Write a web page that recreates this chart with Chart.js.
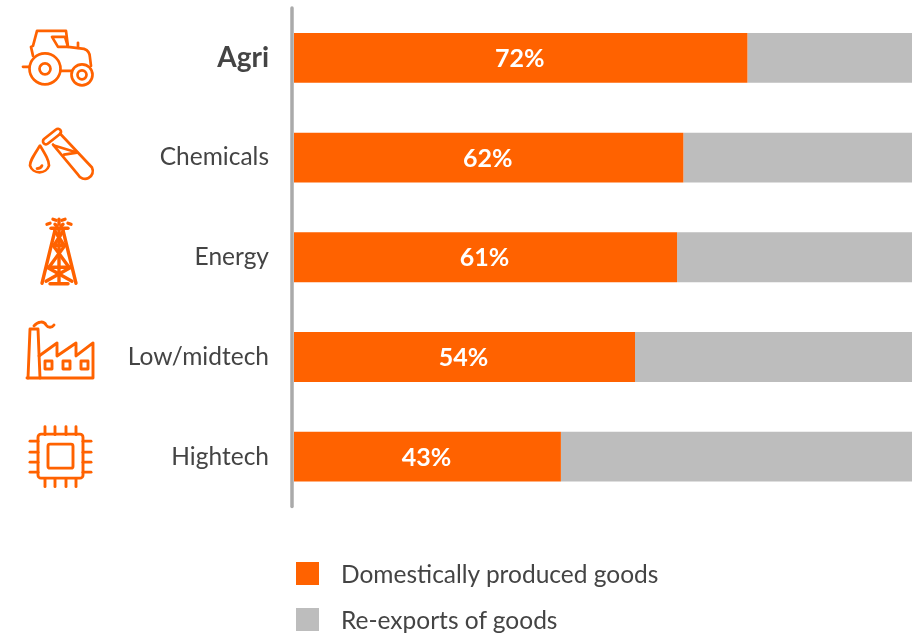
<!DOCTYPE html>
<html>
<head>
<meta charset="utf-8">
<script src="https://cdn.jsdelivr.net/npm/chart.js@4"></script>
<style>
    html, body { margin: 0; padding: 0; background: #fff; overflow: hidden; width: 912px; height: 633px; }
    #wrap { position: relative; width: 912px; height: 633px; overflow: hidden; }
    canvas { position: absolute; left: 0; top: 0; }
    .legend-item { position: absolute; left: 296px; height: 23px; font: 24.5px Lato, sans-serif; color: #444; line-height: 23px; white-space: nowrap; }
    .legend-item i { position: absolute; left: 0; top: 0; width: 23px; height: 23px; }
    .legend-item span { position: absolute; left: 45px; top: 0; }
</style>
</head>
<body>
<div id="wrap">
    <canvas id="chart" width="922" height="633"></canvas>
</div>
<script>
const categories = ['Agri', 'Chemicals', 'Energy', 'Low/midtech', 'Hightech'];
const domestic = [72.2, 62, 61, 54.3, 42.5];
const reexports = [27.8, 38, 39, 45.7, 57.5];
const seriesNames = ['Domestically produced goods', 'Re-exports of goods'];
const seriesColors = ['#ff6200', '#bdbdbd'];

const ORANGE = '#ff6200';
const TEXT = '#444444';
const FONT = 'Lato, sans-serif';

// icon outlines, x from the left of the picture, y from the middle of the row
const icons = [
    // tractor
    ['M33 -2 L31 -11 L33 -12 L37 -27 L66 -27 L68 -11 L84 -9 Q90 -7 90 0 L91 8',
     'M52 -21 L65 -21 L68 -11 L58 -11 Z', 'M61 13 L72 13', 'M23 9 L29 9', 'M78 -15 L78 -10',
     'M60.5 11 A15.5 15.5 0 1 1 29.5 11 A15.5 15.5 0 1 1 60.5 11 Z',
     'M50.5 11 A5.5 5.5 0 1 1 39.5 11 A5.5 5.5 0 1 1 50.5 11 Z',
     'M92.5 17 A10.5 10.5 0 1 1 71.5 17 A10.5 10.5 0 1 1 92.5 17 Z',
     'M86.5 17 A4.5 4.5 0 1 1 77.5 17 A4.5 4.5 0 1 1 86.5 17 Z'],
    // test tube and drop
    ['M53 -13 L78 17 A7.5 7.5 0 0 0 92 10 L60 -24',
     'M44 -18.5 L56 -28 A3 3 0 0 1 60 -23.5 L48 -14 A3 3 0 0 1 44 -18.5 Z',
     'M54 -12 L77 -5 L64 -3',
     'M40 -12 C33 -1 30 3 30 8 A10 10 0 0 0 49 8 C49 3 46 -2 40 -12 Z',
     'M37 11 Q41 11 42 8'],
    // oil derrick
    ['M51 -29 L68 -29', 'M55 -27 L42 26', 'M63 -27 L76 26', 'M59 -27 L59 26', 'M50 26.5 L68 26.5',
     'M52 -12 L66 -12', 'M47 10 L71 10', 'M53 -12 L69 10', 'M65 -12 L49 10', 'M55 -26 L64 -12', 'M63 -26 L54 -12',
     'M47 10 L72 24', 'M71 10 L46 24',
     'M50 -34 L47 -33', 'M68 -34 L71 -33', 'M53 -38 L56 -37', 'M65 -38 L62 -37', 'M59 -38 L59 -33', 'M55 -33 L57 -31', 'M63 -33 L61 -31'],
    // factory
    ['M28 21 L30 -28 L38 -28 L40 21', 'M39 -1 L57 -14 L57 -1 L76 -14 L76 -1 L93 -14 L93 21 L27 21',
     'M34 -31 C38 -36 44 -36 46 -32 C48 -29 52 -29 54 -32',
     'M45 4 L52 4 L52 12 L45 12 Z', 'M63 4 L70 4 L70 12 L63 12 Z', 'M81 4 L88 4 L88 12 L81 12 Z'],
    // chip
    ['M41 -22.5 L80 -22.5 A3 3 0 0 1 83 -19.5 L83 18.5 A3 3 0 0 1 80 21.5 L41 21.5 A3 3 0 0 1 38 18.5 L38 -19.5 A3 3 0 0 1 41 -22.5 Z',
     'M50 -12.5 L71 -12.5 A2 2 0 0 1 73 -10.5 L73 9.5 A2 2 0 0 1 71 11.5 L50 11.5 A2 2 0 0 1 48 9.5 L48 -10.5 A2 2 0 0 1 50 -12.5 Z',
     'M45 -30 L45 -22', 'M55 -30 L55 -22', 'M66 -30 L66 -22', 'M76 -30 L76 -22',
     'M45 22 L45 30', 'M55 22 L55 30', 'M66 22 L66 30', 'M76 22 L76 30',
     'M30 -15.5 L38 -15.5', 'M30 -4.5 L38 -4.5', 'M30 5.5 L38 5.5', 'M30 15.5 L38 15.5',
     'M83 -15.5 L91 -15.5', 'M83 -4.5 L91 -4.5', 'M83 5.5 L91 5.5', 'M83 15.5 L91 15.5']
];
const iconWidths = [2.7, 2.7, 3.4, 2.9, 2.9];

// percentage in the middle of the orange bars
const barLabels = {
    id: 'barLabels',
    afterDatasetsDraw(chart) {
        const ctx = chart.ctx;
        ctx.save();
        ctx.font = 'bold 25px ' + FONT;
        ctx.fillStyle = '#fff';
        ctx.textAlign = 'center';
        ctx.textBaseline = 'middle';
        chart.getDatasetMeta(0).data.forEach((bar, i) => {
            ctx.fillText(Math.round(domestic[i]) + '%', (bar.base + bar.x) / 2 - 1, bar.y + 1);
        });
        ctx.restore();
    }
};

// grey axis line and the row icons
const sideDecor = {
    id: 'sideDecor',
    afterDraw(chart) {
        const ctx = chart.ctx;
        const area = chart.chartArea;
        ctx.save();
        ctx.strokeStyle = '#aaaaaa';
        ctx.lineWidth = 3.5;
        ctx.lineCap = 'round';
        ctx.beginPath();
        ctx.moveTo(area.left - 2, area.top);
        ctx.lineTo(area.left - 2, area.bottom);
        ctx.stroke();

        ctx.strokeStyle = ORANGE;
        ctx.lineJoin = 'round';
        categories.forEach((c, i) => {
            ctx.save();
            ctx.lineWidth = iconWidths[i];
            ctx.translate(0, chart.scales.y.getPixelForValue(i));
            icons[i].forEach(d => ctx.stroke(new Path2D(d)));
            ctx.restore();
        });
        ctx.restore();
    }
};

new Chart(document.getElementById('chart'), {
    type: 'bar',
    data: {
        labels: categories,
        datasets: [
            { label: seriesNames[0], data: domestic, backgroundColor: seriesColors[0] },
            { label: seriesNames[1], data: reexports, backgroundColor: seriesColors[1] }
        ]
    },
    options: {
        indexAxis: 'y',
        responsive: false,
        animation: false,
        categoryPercentage: 0.5,
        barPercentage: 1,
        layout: { padding: { top: 8, bottom: 126.5, left: 0, right: 0 } },
        plugins: { legend: { display: false }, tooltip: { enabled: false } },
        scales: {
            x: { stacked: true, min: 0, max: 100, display: false },
            y: {
                stacked: true,
                grid: { display: false, tickLength: 0 },
                border: { display: false },
                afterFit(scale) {
                    scale.width = 294;
                    scale.paddingTop = 0;
                    scale.paddingBottom = 0;
                },
                ticks: {
                    padding: 25,
                    color: TEXT,
                    font: ctx => ctx.index === 0
                        ? { family: FONT, size: 28, weight: 'bold' }
                        : { family: FONT, size: 24.5 }
                }
            }
        }
    },
    plugins: [barLabels, sideDecor]
});

// legend under the bars
const wrap = document.getElementById('wrap');
const legendTops = [562, 608];
seriesNames.forEach((name, i) => {
    const item = document.createElement('div');
    item.className = 'legend-item';
    item.style.top = legendTops[i] + 'px';
    item.innerHTML = '<i style="background:' + seriesColors[i] + '"></i><span>' + name + '</span>';
    wrap.appendChild(item);
});
</script>
</body>
</html>
